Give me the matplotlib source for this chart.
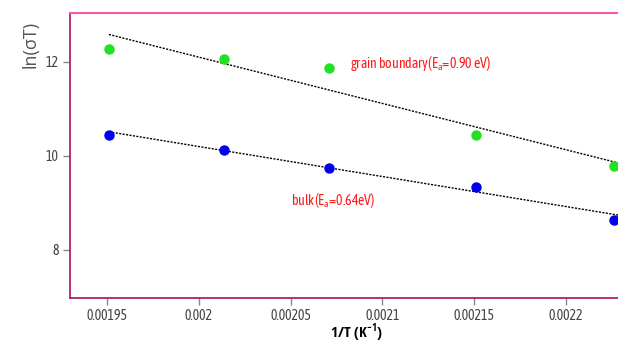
import matplotlib
matplotlib.use("Agg")
import matplotlib.pyplot as plt

# Data
inv_T = [0.001951, 0.0020136, 0.0020709, 0.002151, 0.0022263]
ln_sigmaT_gb = [12.27, 12.06, 11.87, 10.44, 9.775]
ln_sigmaT_bulk = [10.44, 10.12, 9.75, 9.33, 8.63]
fit_x = [0.001951, 0.0022285]
fit_gb = [12.58, 9.85]
fit_bulk = [10.51, 8.74]
xticks = [0.00195, 0.002, 0.00205, 0.0021, 0.00215, 0.0022]
xtick_labels = ["0.00195", "0.002", "0.00205", "0.0021", "0.00215", "0.0022"]
yticks = [8, 10, 12]
label_gb = "grain boundary(E$_\\mathregular{a}$=0.90 eV)"
label_bulk = "bulk(E$_\\mathregular{a}$=0.64eV)"

narrow = ["Asap Condensed", "DejaVu Sans"]
bold_narrow = ["Open Sans Condensed", "DejaVu Sans"]
plt.rcParams["mathtext.fontset"] = "custom"
plt.rcParams["mathtext.rm"] = "Asap Condensed"
plt.rcParams["mathtext.bf"] = "Open Sans Condensed:bold"

fig = plt.figure(figsize=(6.18, 3.44), dpi=100)
ax = fig.add_axes([70/618, 1-298.3/344, 1-70/618, (298.3-13.3)/344])
ax.set_xlim(0.0019298, 0.0022285)
ax.set_ylim(6.97, 13.03)

ax.plot(fit_x, fit_gb, linestyle=(0, (1.5, 1)), color="black", linewidth=1.0)
ax.plot(fit_x, fit_bulk, linestyle=(0, (1.5, 1)), color="black", linewidth=1.0)
ax.plot(inv_T, ln_sigmaT_gb, "o", color="#22e022", markersize=6.5, zorder=3, clip_on=False)
ax.plot(inv_T, ln_sigmaT_bulk, "o", color="#0000ee", markersize=6.5, zorder=3, clip_on=False)

ax.text(0.0020826, 12.0 - (63 - 61.7) / 47.08, label_gb,
        color="#ff1a1a", fontsize=10, family=narrow,
        va="center", ha="left")
ax.text(0.0020503, 10.0 - (201 - 156.7) / 47.08, label_bulk,
        color="#ff1a1a", fontsize=10, family=narrow,
        va="center", ha="left")

ax.set_xticks(xticks)
ax.set_xticklabels(xtick_labels)
ax.set_yticks(yticks)
for lab in ax.get_xticklabels() + ax.get_yticklabels():
    lab.set_family(narrow)
    lab.set_fontsize(10)
    lab.set_color("#444444")
ax.tick_params(direction="out", length=5, color="#888888", width=1, pad=3)

ax.spines["right"].set_visible(False)
ax.spines["top"].set_color("#ff55aa")
ax.spines["top"].set_linewidth(1.5)
ax.spines["bottom"].set_color("#b0206a")
ax.spines["left"].set_color("#b0206a")
ax.spines["bottom"].set_linewidth(1.3)
ax.spines["left"].set_linewidth(1.3)

fig.text(357/618, 1-333/344, "1/T (K$^{\\mathbf{-1}}$)", fontsize=11, fontweight="bold",
         family=bold_narrow, ha="center", va="center")
fig.text(30/618, 1-44/344, "ln(σT)", rotation=90, fontsize=13, color="#555555",
         ha="center", va="center", family=["Open Sans", "DejaVu Sans"])

fig.savefig("out.png", dpi=100)
